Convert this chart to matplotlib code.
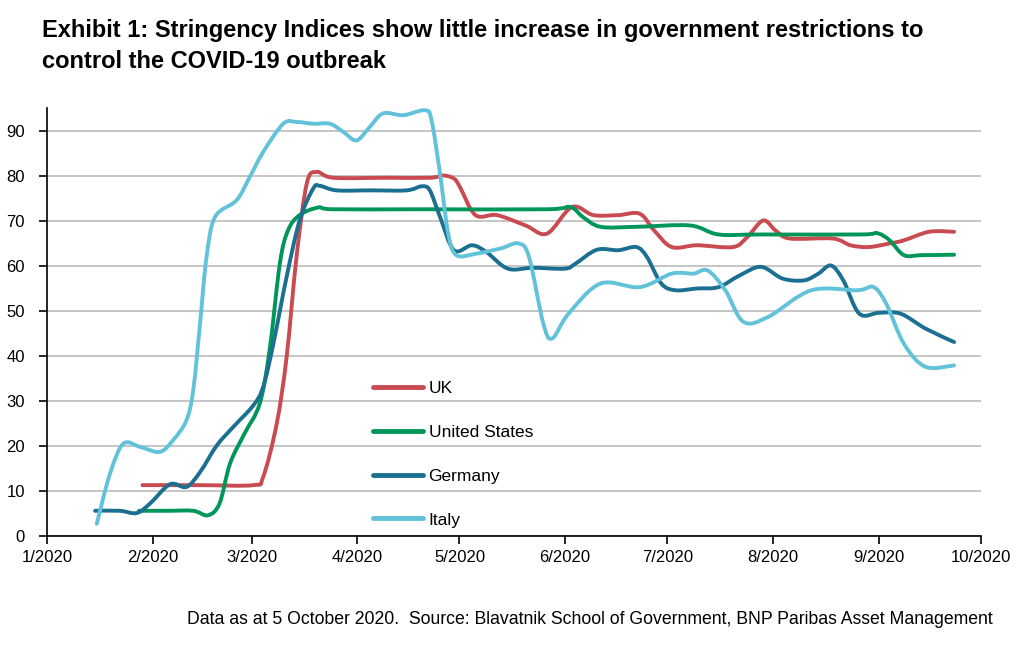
import numpy as np
import pandas as pd
import matplotlib.pyplot as plt
import matplotlib.dates as mdates
from matplotlib.path import Path
from matplotlib.patches import PathPatch
from matplotlib.lines import Line2D

# Data: day offsets from 1 Jan 2020 and index values
uk_days = [28, 45, 60.5, 63.4, 67.4, 70.3, 73.2, 76.2, 79.1, 84, 100, 112.3, 116.3, 119.4,
           121.1, 125.7, 132, 140.4, 146.7, 154, 160.3, 167.6, 173.9, 178.1, 183.3, 190.7,
           201.2, 205.4, 210.1, 213.7, 217.9, 230.5, 235.7, 241, 247.2, 251.4, 258.8, 266.1]
uk_vals = [11.3, 11.3, 11.3, 13.1, 25, 39.8, 62, 78.3, 80.9, 79.6, 79.6, 79.6, 80.1, 79.4,
           77.6, 71.3, 71.3, 69, 67.2, 73.1, 71.3, 71.3, 71.6, 67.9, 64.2, 64.6,
           64.2, 66.4, 70.1, 67.9, 66.1, 66.1, 64.6, 64.2, 65, 65.7, 67.6, 67.6]

us_days = [27, 35, 42.9, 47.2, 50.6, 53.7, 57.9, 62.4, 65.3, 68.3, 70.7, 74.1, 79.6, 84,
           110, 146.7, 153.5, 157.2, 162.4, 172.9, 188.6, 197, 209.5, 238.8, 243.5, 247.2,
           251.4, 256.6, 266.1]
us_vals = [5.6, 5.6, 5.6, 4.6, 7.2, 16.1, 22.7, 29.4, 41.3, 60.5, 67.9, 71.3, 73, 72.6,
           72.6, 72.6, 73.1, 70.9, 68.7, 68.7, 69, 67, 67, 67, 67.3, 65.7,
           62.4, 62.4, 62.5]

de_days = [14.1, 21.4, 26.3, 30.2, 36.1, 40.9, 44.9, 49.8, 54.6, 60.5, 63.4, 66.4, 70.3,
           74.1, 78.1, 80.1, 84.9, 95, 105.5, 109.9, 112.3, 115.3, 119.4, 124.7, 128.9,
           135.2, 142.5, 151.9, 155, 161.3, 167.6, 172.9, 176, 180.2, 184.4, 190.7, 197,
           203.2, 209.5, 215.8, 222.1, 226.3, 230, 233.6, 238.3, 244.1, 250.4, 257.7, 266.1]
de_vals = [5.6, 5.6, 5.1, 7.2, 11.5, 10.9, 14.2, 20.1, 24.2, 29, 33.1, 42.7, 57.6,
           70.1, 77.2, 77.8, 76.8, 76.8, 76.8, 77.7, 76.8, 70.9, 63.5, 64.6, 63.1,
           59.4, 59.6, 59.4, 60.5, 63.6, 63.5, 64.2, 62, 56.1, 54.6, 55, 55.3,
           57.9, 59.8, 57.2, 56.8, 58.3, 60.1, 56.8, 49.4, 49.6, 49.4, 46.1, 43.1]

it_days = [14.6, 18.5, 22.4, 27.3, 33.1, 37, 40.9, 42.9, 44.9, 46.8, 49.3, 55.6, 59.5,
           63.4, 69.3, 73.2, 78.1, 83, 86.9, 90.8, 94.7, 98.6, 104.5, 110.9, 112.8, 115.3,
           117.7, 120.1, 125.7, 133.1, 138.3, 141.4, 145.6, 148.2, 153, 162.4, 173.9, 183.3,
           189.6, 193.8, 199, 204.3, 211.6, 224.2, 237.8, 242.5, 246.2, 251.4, 257.7, 266.1]
it_vals = [2.7, 13.9, 20.5, 19.8, 18.7, 21.3, 25.7, 32.4, 47.2, 62, 70.9, 74.6, 79.8,
           85.3, 91.6, 92, 91.6, 91.6, 89.8, 87.9, 90.9, 93.9, 93.5, 94.6, 92.4, 80.5,
           67.2, 62.4, 62.7, 63.9, 65, 62, 47.2, 43.9, 49.4, 56.1, 55.3, 58.3,
           58.3, 59, 54.6, 47.6, 48.7, 54.6, 54.6, 55.3, 51.6, 42.7, 37.6, 37.9]

series_names = ['UK', 'United States', 'Germany', 'Italy']
series_colors = ['#C94A50', '#00965A', '#1B6F91', '#62C2DA']
y_ticks = [0, 10, 20, 30, 40, 50, 60, 70, 80, 90]
x_tick_labels = ['1/2020', '2/2020', '3/2020', '4/2020', '5/2020',
                 '6/2020', '7/2020', '8/2020', '9/2020', '10/2020']

plt.rcParams['font.family'] = ['Liberation Sans', 'DejaVu Sans']

start = pd.Timestamp('2020-01-01')


def smooth_path(x, y):
    # Excel-style smoothed line: Catmull-Rom segments drawn as cubic Beziers
    pts = np.column_stack([x, y])
    ext = np.vstack([pts[0], pts, pts[-1]])
    verts = [pts[0]]
    codes = [Path.MOVETO]
    for i in range(len(pts) - 1):
        p0, p1, p2, p3 = ext[i], ext[i + 1], ext[i + 2], ext[i + 3]
        verts += [p1 + (p2 - p0) / 6, p2 - (p3 - p1) / 6, p2]
        codes += [Path.CURVE4] * 3
    return Path(verts, codes)


fig = plt.figure(figsize=(10.24, 6.55), dpi=100)
ax = fig.add_axes([47 / 1024, 119 / 655, 934 / 1024, 428 / 655])

all_days = [uk_days, us_days, de_days, it_days]
all_vals = [uk_vals, us_vals, de_vals, it_vals]
handles = []
for days, vals, name, col in zip(all_days, all_vals, series_names, series_colors):
    xs = mdates.date2num(start + pd.to_timedelta(days, unit='D'))
    ax.add_patch(PathPatch(smooth_path(xs, vals), fill=False, edgecolor=col, lw=2.8,
                           joinstyle='round', capstyle='round'))
    handles.append(Line2D([], [], color=col, lw=3.5, solid_capstyle='round', label=name))

ax.xaxis_date()
ax.set_xlim(start, pd.Timestamp('2020-10-01'))
ax.set_ylim(0, 95.1)
ax.set_yticks(y_ticks)
ax.set_yticklabels([str(t) for t in y_ticks])
ax.yaxis.grid(True, color='#C0C0C0', lw=1.3)
ax.set_axisbelow(True)

month_ticks = pd.date_range('2020-01-01', '2020-10-01', freq='MS')
ax.set_xticks(month_ticks)
ax.set_xticklabels(x_tick_labels)

for s in ['top', 'right']:
    ax.spines[s].set_visible(False)
for s in ['left', 'bottom']:
    ax.spines[s].set_linewidth(1.2)
ax.tick_params(axis='both', direction='out', length=6, width=1.2, labelsize=12)
ax.tick_params(axis='y', pad=10)
ax.tick_params(axis='x', pad=4)

ax.legend(handles=handles, loc='upper left',
          bbox_to_anchor=((373 - 47) / 934, (536 - 381) / 428),
          frameon=False, fontsize=12.5, handlelength=2.9, handletextpad=0.3,
          labelspacing=1.65, borderpad=0, borderaxespad=0)

fig.text(42 / 1024, 1 - 30 / 655,
         'Exhibit 1: Stringency Indices show little increase in government restrictions to',
         fontsize=17, fontweight='bold', va='center', ha='left')
fig.text(42 / 1024, 1 - 62 / 655, 'control the COVID-19 outbreak',
         fontsize=17, fontweight='bold', va='center', ha='left')
fig.text(993 / 1024, 1 - 619 / 655,
         'Data as at 5 October 2020.  Source: Blavatnik School of Government, '
         'BNP Paribas Asset Management',
         fontsize=12.7, ha='right', va='center')

fig.savefig('out.png', dpi=100)
